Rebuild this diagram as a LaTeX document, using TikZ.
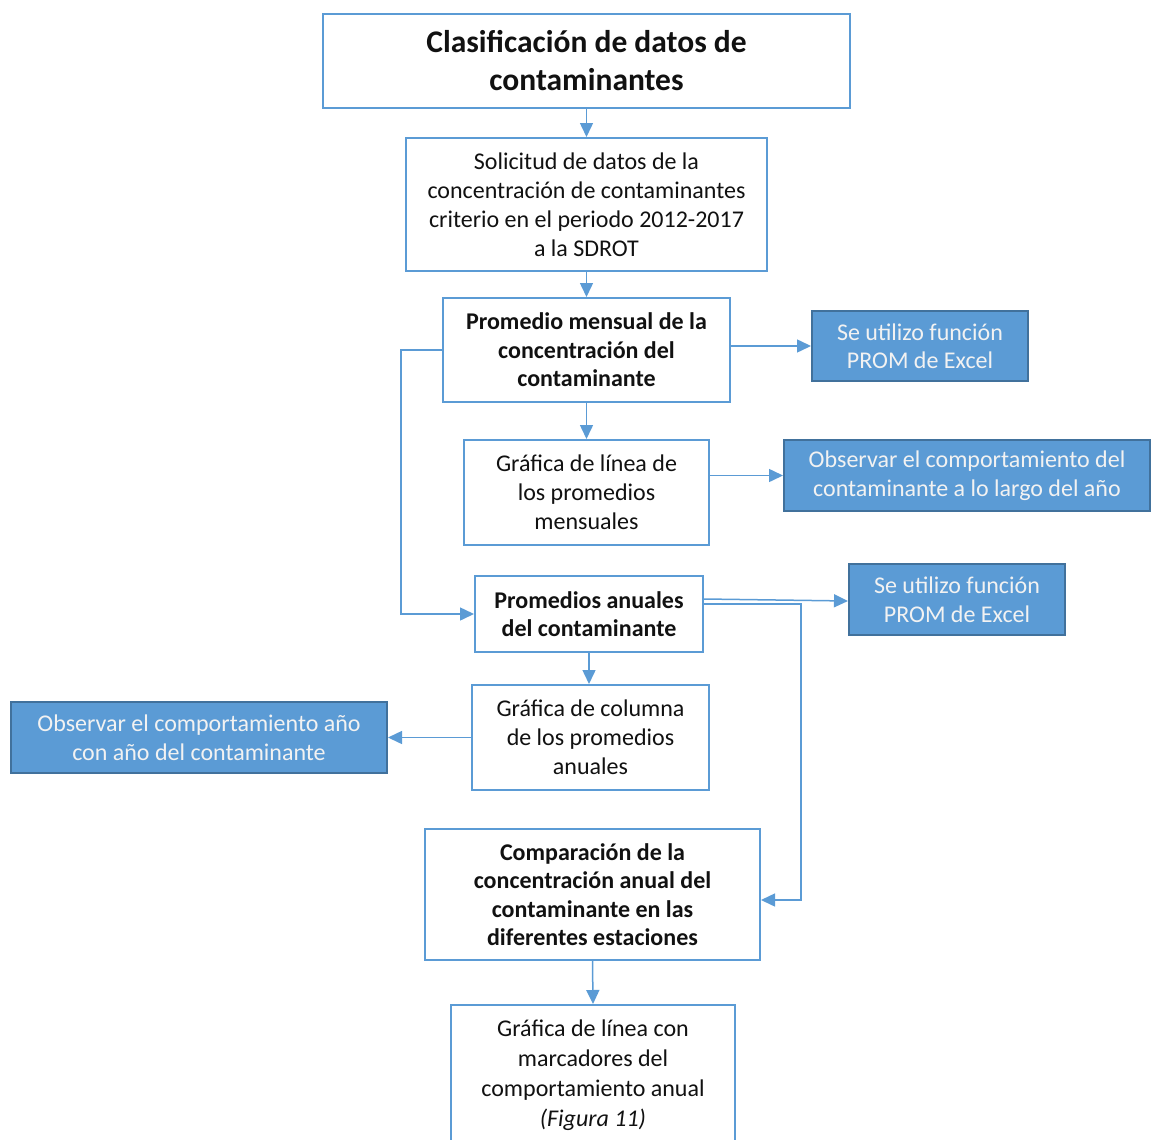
\documentclass[tikz,border=0pt]{standalone}
\usepackage{fontspec}
\setmainfont{Carlito}
\usetikzlibrary{arrows.meta,calc}
\definecolor{lineblue}{HTML}{5B9BD5}
\definecolor{fillblue}{HTML}{5B9BD5}
\definecolor{darkedge}{HTML}{41719C}
\definecolor{txt}{HTML}{111111}
\definecolor{ltxt}{HTML}{F2F2F2}
\begin{document}
\begin{tikzpicture}[x=1pt,y=-1pt,
  box/.style={draw=lineblue,line width=2pt,fill=white,align=center,text=txt,
    font=\fontsize{24}{29}\selectfont,inner sep=0pt},
  bbox/.style={box,font=\fontsize{24}{28.5}\selectfont\bfseries},
  fbox/.style={draw=darkedge,line width=2pt,fill=fillblue,align=center,text=ltxt,
    font=\fontsize{24}{28.5}\selectfont,inner sep=0pt},
  conn/.style={draw=lineblue,line width=1.5pt,-{Triangle[length=14pt,width=13pt]}},
  plain/.style={draw=lineblue,line width=1.5pt}]
\useasboundingbox (0,0) rectangle (1151,1140);
\clip (0,0) rectangle (1151,1140);
% boxes (centers and sizes in px)
\node[box,minimum width=527pt,minimum height=94pt,font=\fontsize{31.5}{38}\selectfont\bfseries] (t) at (586.5,61)
  {Clasificación de datos de\\contaminantes};
\node[box,minimum width=361pt,minimum height=133pt] (s) at (586.5,204.5)
  {Solicitud de datos de la\\concentración de contaminantes\\criterio en el periodo 2012-2017\\a la SDROT};
\node[bbox,minimum width=287pt,minimum height=104pt] (pm) at (586.5,350)
  {Promedio mensual de la\\concentración del\\contaminante};
\node[fbox,minimum width=216pt,minimum height=70pt] (se1) at (920,346)
  {Se utilizo función\\PROM de Excel};
\node[box,minimum width=245pt,minimum height=105pt] (gl) at (586.5,492.5)
  {Gráfica de línea de\\los promedios\\mensuales};
\node[fbox,minimum width=366pt,minimum height=71pt] (ob1) at (967,475.5)
  {Observar el comportamiento del\\contaminante a lo largo del año};
\node[bbox,minimum width=228pt,minimum height=76pt] (pa) at (589,614)
  {Promedios anuales\\del contaminante};
\node[fbox,minimum width=216pt,minimum height=71pt] (se2) at (957,599.5)
  {Se utilizo función\\PROM de Excel};
\node[box,minimum width=237pt,minimum height=105pt] (gc) at (590.5,737.5)
  {Gráfica de columna\\de los promedios\\anuales};
\node[fbox,minimum width=376pt,minimum height=71pt] (ob2) at (199,737.5)
  {Observar el comportamiento año\\con año del contaminante};
\node[bbox,minimum width=335pt,minimum height=131pt] (cm) at (592.5,894.5)
  {Comparación de la\\concentración anual del\\contaminante en las\\diferentes estaciones};
\node[box,minimum width=284pt,minimum height=140pt,anchor=north,font=\fontsize{24}{30}\selectfont] (gm) at (593,1004)
  {Gráfica de línea con\\marcadores del\\comportamiento anual\\\textit{(Figura 11)}};
% connectors
\draw[conn] (t.south) -- (s.north);
\draw[conn] (s.south) -- (pm.north);
\draw[conn] (pm.east |- se1.west) -- (se1.west);
\draw[conn] (pm.south) -- (gl.north);
\draw[conn] (pm.west) -- (401,350) |- (pa.west);
\draw[conn] (gl.east |- ob1.west) -- (ob1.west);
\draw[conn] ([yshift=15pt]pa.east) -- ([yshift=-1.5pt]se2.west);
\coordinate (cr) at (801,604);
\draw[conn] ([yshift=10pt]pa.east) -- (cr) |- ([yshift=-5.5pt]cm.east);
\draw[conn] (pa.south) -- (pa.south |- gc.north);
\draw[conn] (gc.west |- ob2.east) -- (ob2.east);
\draw[conn] (cm.south) -- (gm.north);
\end{tikzpicture}
\end{document}
